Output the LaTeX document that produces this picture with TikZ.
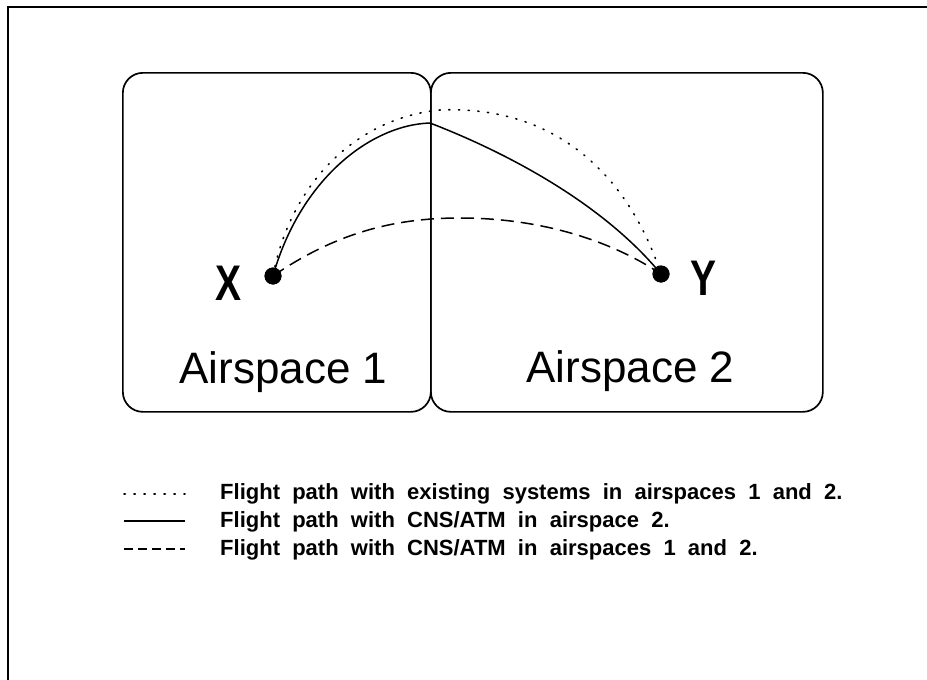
\documentclass[tikz,border=0pt]{standalone}
\usepackage{fontspec}
\setmainfont{Liberation Sans}
\newfontfamily\xyfont[FakeStretch=0.78]{Liberation Sans Bold}
\newfontfamily\legfont[WordSpace=2]{Liberation Sans}
\begin{document}
\begin{tikzpicture}[x=1pt,y=-1pt,
  frame/.style={line width=1.5pt},
  box/.style={draw, line width=1.7pt, rounded corners=20pt, inner sep=0pt},
  dotpt/.style={circle, fill, inner sep=0pt, minimum size=17pt},
  solidpath/.style={line width=1.5pt},
  dotpath/.style={line width=1.6pt, dash pattern=on 1.2pt off 8.5pt, line cap=round},
  dashpath/.style={line width=1.5pt, dash pattern=on 13pt off 7pt},
  legdot/.style={line width=1.6pt, dash pattern=on 1.2pt off 8.8pt, line cap=round},
  legsolid/.style={line width=1.5pt},
  legdash/.style={line width=1.5pt, dash pattern=on 9pt off 5pt},
  big/.style={font=\fontsize{44}{48}\selectfont, inner sep=0pt, anchor=base},
  xylab/.style={font=\xyfont\fontsize{50}{54}\selectfont, inner sep=0pt, anchor=base},
  leg/.style={font=\legfont\bfseries\fontsize{22}{26}\selectfont, inner sep=0pt, anchor=base west}]
\useasboundingbox (0,0) rectangle (927,680);
% frame
\coordinate (fa) at (8,680);
\coordinate (fb) at (8,7);
\coordinate (fc) at (927,7);
\draw[frame] (fa) -- (fb) -- (fc);
% airspace boxes
\node[box, minimum width=308pt, minimum height=339pt, anchor=north west] (b1) at (122,72) {};
\node[box, minimum width=392pt, minimum height=339pt, anchor=north west] (b2) at (430,72) {};
% waypoints
\coordinate (sp) at (430,123);
\coordinate (dp) at (440,110);
\coordinate (hp) at (460,218);
\node[dotpt] (xd) at (273,276) {};
\node[dotpt] (yd) at (661,274) {};
% flight paths
\draw[solidpath] (xd.center) .. controls (300,180) and (370,125) .. (sp)
                 .. controls (500,150) and (600,200) .. (yd.center);
\draw[dotpath] (xd.center) .. controls (290,185) and (355,118) .. (dp)
               .. controls (560,105) and (630,180) .. (yd.center);
\draw[dashpath] (xd.center) .. controls (340,230) and (400,218) .. (hp)
                .. controls (540,218) and (610,240) .. (yd.center);
\node[dotpt] at (xd) {};
\node[dotpt] at (yd) {};
% labels
\node[xylab] (xl) at (229,300) {X};
\node[xylab] (yl) at (703,295) {Y};
\node[big] (a1) at (283.5,383) {Airspace 1};
\node[big] (a2) at (630.5,382) {Airspace 2};
% legend
\coordinate (l1a) at (124,494); \coordinate (l1b) at (185,494);
\coordinate (l2a) at (124,521); \coordinate (l2b) at (185,521);
\coordinate (l3a) at (124,549); \coordinate (l3b) at (185,549);
\draw[legdot] (l1a) -- (l1b);
\draw[legsolid] (l2a) -- (l2b);
\draw[legdash] (l3a) -- (l3b);
\node[leg] (t1) at (220,499) {Flight path with existing systems in airspaces 1 and 2.};
\node[leg] (t2) at (220,527) {Flight path with CNS/ATM in airspace 2.};
\node[leg] (t3) at (220,555) {Flight path with CNS/ATM in airspaces 1 and 2.};
\end{tikzpicture}
\end{document}
